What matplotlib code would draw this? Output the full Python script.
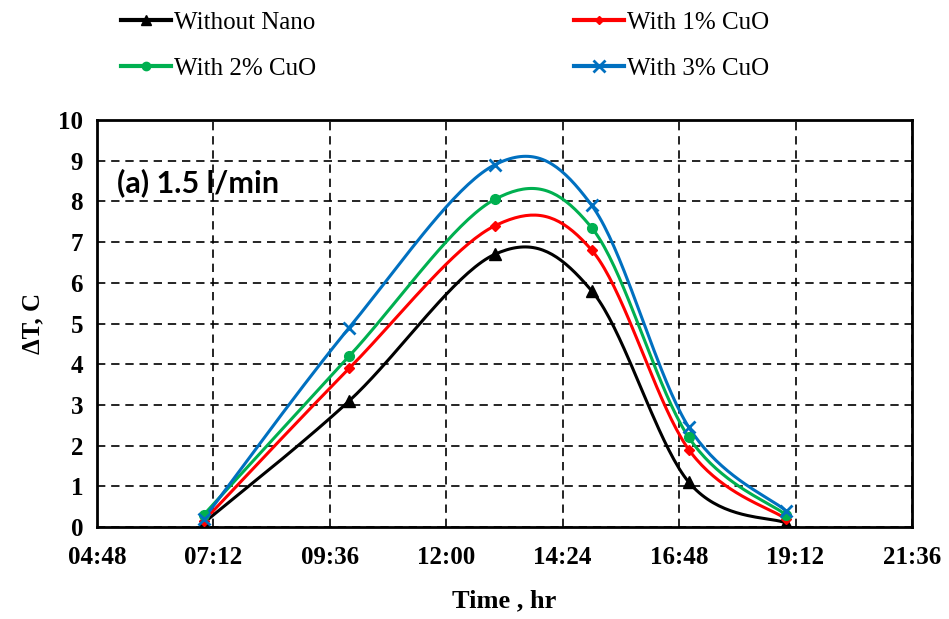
import numpy as np
import matplotlib.pyplot as plt
from matplotlib.lines import Line2D

# time of day in hours
hours = [7, 10, 13, 15, 17, 19]

without_nano = [0.1, 3.1, 6.7, 5.8, 1.1, 0.1]
cuo_1 = [0.15, 3.9, 7.4, 6.8, 1.9, 0.2]
cuo_2 = [0.3, 4.2, 8.05, 7.35, 2.2, 0.3]
cuo_3 = [0.2, 4.9, 8.9, 7.9, 2.45, 0.4]

x_ticks = [4.8, 7.2, 9.6, 12.0, 14.4, 16.8, 19.2, 21.6]
x_tick_labels = ["04:48", "07:12", "09:36", "12:00", "14:24", "16:48", "19:12", "21:36"]
y_ticks = list(range(0, 11))


def smooth(x, y, n=40):
    # Excel style smoothed line: bezier with catmull-rom control points
    p = np.column_stack([x, y]).astype(float)
    pts = np.vstack([p[0], p, p[-1]])
    t = np.linspace(0, 1, n)[:, None]
    out = []
    for i in range(1, len(pts) - 2):
        p0, p1, p2, p3 = pts[i - 1], pts[i], pts[i + 1], pts[i + 2]
        c1 = p1 + (p2 - p0) / 6
        c2 = p2 - (p3 - p1) / 6
        seg = ((1 - t) ** 3) * p1 + 3 * ((1 - t) ** 2) * t * c1 + 3 * (1 - t) * t ** 2 * c2 + t ** 3 * p2
        out.append(seg if i == 1 else seg[1:])
    out = np.vstack(out)
    return out[:, 0], out[:, 1]


series = [
    ("Without Nano", without_nano, "black", "^", 8),
    ("With 1% CuO", cuo_1, "#ff0000", "D", 5),
    ("With 2% CuO", cuo_2, "#00b050", "o", 7),
    ("With 3% CuO", cuo_3, "#0070c0", "x", 9),
]

fig = plt.figure(figsize=(9.49, 6.19), dpi=100)
ax = fig.add_axes([0.1022, 0.1486, 0.8588, 0.6575])

handles = []
for label, vals, color, marker, ms in series:
    sx, sy = smooth(hours, vals)
    ax.plot(sx, sy, color=color, lw=2.2, zorder=3)
    ax.plot(hours, vals, linestyle="none", marker=marker, color=color, ms=ms,
            mew=2 if marker == "x" else 1, zorder=4)
    handles.append(Line2D([0], [0], color=color, lw=3, marker=marker, ms=ms - 1,
                          mew=2 if marker == "x" else 1, label=label))

ax.set_xlim(4.8, 21.6)
ax.set_ylim(0, 10)
ax.set_xticks(x_ticks)
ax.set_xticklabels(x_tick_labels)
ax.set_yticks(y_ticks)
ax.tick_params(axis="x", length=0, pad=14, labelsize=18)
ax.tick_params(axis="y", length=0, pad=10, labelsize=18)
for lab in ax.get_xticklabels() + ax.get_yticklabels():
    lab.set_fontfamily("Liberation Serif")
    lab.set_fontweight("bold")

ax.grid(True, color="black", linestyle=(0, (5, 3.5)), lw=1.2)
for s in ax.spines.values():
    s.set_linewidth(2)
    s.set_color("black")

ax.set_xlabel("Time , hr", fontfamily="Liberation Serif", fontweight="bold", fontsize=19, labelpad=14)
ax.set_ylabel("ΔT, C", fontfamily="Liberation Serif", fontweight="bold", fontsize=18, labelpad=10)

ax.text(0.025, 0.845, "(a) 1.5 l/min", transform=ax.transAxes, fontfamily="Lato",
        fontweight="bold", fontsize=22, va="center", ha="left")

fig.legend(handles=[handles[0], handles[2], handles[1], handles[3]], ncol=2,
           loc="upper left", bbox_to_anchor=(0.104, 1.018), frameon=False,
           prop={"family": "Liberation Serif", "size": 18}, handlelength=2.0,
           handletextpad=0.12, columnspacing=10.3, labelspacing=0.95)

fig.savefig("out.png", dpi=100)
